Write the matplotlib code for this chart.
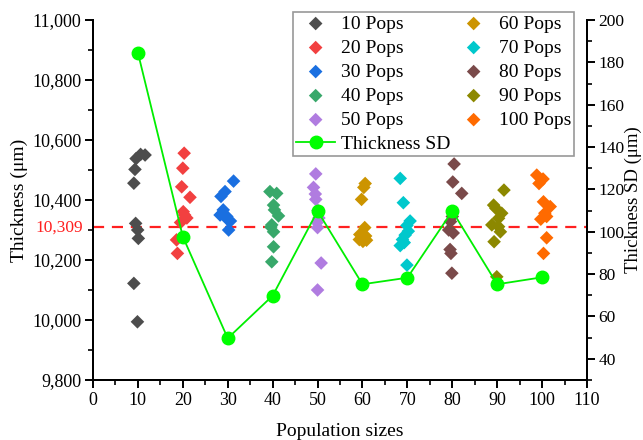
import numpy as np
import matplotlib
matplotlib.use('Agg')
import matplotlib.pyplot as plt
import matplotlib.transforms as mtransforms
from matplotlib.ticker import MultipleLocator, FuncFormatter

plt.rcParams['font.family'] = ['Liberation Serif', 'DejaVu Serif']
plt.rcParams['mathtext.fontset'] = 'stix'

# Thickness of each run, grouped by population size (x jittered around the size)
pops = [10, 20, 30, 40, 50, 60, 70, 80, 90, 100]
x_runs = {
    10: [9.6, 10.6, 11.6, 9.35, 9.1, 9.5, 9.95, 10.1, 9.1, 9.9],
    20: [20.3, 20.0, 19.75, 21.6, 20.1, 20.9, 19.5, 20.4, 18.6, 18.8],
    30: [31.3, 29.4, 28.5, 29.0, 28.3, 29.8, 30.6, 30.2, 28.9, 29.9],
    40: [39.4, 40.9, 40.2, 40.4, 41.3, 39.8, 40.2, 40.2, 39.8, 39.6],
    50: [49.6, 49.1, 49.5, 49.6, 50.1, 50.3, 49.9, 50.0, 50.8, 50.0],
    60: [60.6, 60.3, 59.8, 60.5, 59.4, 60.7, 59.3, 60.1, 60.9, 60.0],
    70: [68.4, 69.1, 70.6, 69.9, 70.2, 69.5, 68.9, 68.4, 69.3, 69.9],
    80: [80.4, 80.1, 82.1, 80.0, 79.6, 79.2, 80.2, 79.5, 79.7, 79.9],
    90: [91.5, 89.2, 89.7, 91.0, 90.3, 88.8, 90.3, 90.7, 89.3, 89.9],
    100: [98.8, 100.2, 99.3, 100.3, 101.8, 100.6, 99.7, 101.0, 101.0, 100.3],
}
thickness = {
    10: [10538, 10552, 10550, 10502, 10456, 10322, 10300, 10272, 10122, 9994],
    20: [10556, 10506, 10444, 10409, 10361, 10340, 10325, 10350, 10267, 10222],
    30: [10463, 10428, 10412, 10367, 10350, 10345, 10330, 10300, 10356, 10336],
    40: [10428, 10422, 10383, 10367, 10347, 10317, 10294, 10244, 10194, 10310],
    50: [10487, 10442, 10420, 10402, 10365, 10340, 10325, 10308, 10190, 10100],
    60: [10455, 10442, 10402, 10308, 10285, 10280, 10268, 10262, 10266, 10275],
    70: [10472, 10391, 10330, 10315, 10296, 10283, 10268, 10248, 10258, 10183],
    80: [10520, 10460, 10422, 10345, 10328, 10300, 10290, 10235, 10222, 10156],
    90: [10433, 10383, 10372, 10356, 10339, 10317, 10311, 10294, 10261, 10144],
    100: [10483, 10470, 10455, 10394, 10378, 10356, 10336, 10345, 10274, 10222],
}
colors = ['#4d4d4d', '#f24040', '#1a6fe0', '#38a86a', '#b07ce0',
          '#cc9400', '#00c8cc', '#7a4a4a', '#8c8800', '#ff6a00']

sd_values = [184.6, 97.7, 49.7, 69.8, 109.8, 75.2, 78.3, 109.8, 75.2, 78.5]
mean_thickness = 10309

fig = plt.figure(figsize=(6.43, 4.4), dpi=100)
ax = fig.add_axes([0.1446, 0.1364, 0.7684, 0.8181])
ax2 = ax.twinx()

handles = []
for p, c in zip(pops, colors):
    h = ax.scatter(x_runs[p], thickness[p], marker='D', s=48, color=c,
                   edgecolors='none', label=f'{p} Pops', zorder=3)
    handles.append(h)

ax.axhline(mean_thickness, color='#ff2020', ls=(0, (5, 3.5)), lw=1.6, zorder=2)
trans = mtransforms.blended_transform_factory(ax.transAxes, ax.transData)
ax.text(-0.02, mean_thickness, '10,309', transform=trans, ha='right',
        va='center', color='#ff2020', fontsize=12.5)

sd_line, = ax2.plot(pops, sd_values, color='#00ee00', lw=1.3, marker='o',
                    markersize=9, markerfacecolor='#00ff00',
                    markeredgecolor='#00ff00', label='Thickness SD', zorder=4)

ax.set_xlim(0, 110)
ax.set_ylim(9800, 11000)
ax2.set_ylim(30, 200)

ax.xaxis.set_major_locator(MultipleLocator(10))
ax.xaxis.set_minor_locator(MultipleLocator(5))
ax.yaxis.set_major_locator(MultipleLocator(200))
ax.yaxis.set_minor_locator(MultipleLocator(100))
ax.yaxis.set_major_formatter(FuncFormatter(lambda v, _: f'{v:,.0f}'))
ax2.yaxis.set_minor_locator(MultipleLocator(10))
ax2.set_yticks([40, 60, 80, 100, 120, 140, 160, 180, 200])

for a in (ax, ax2):
    a.spines['top'].set_visible(False)
    for s in a.spines.values():
        s.set_linewidth(1.4)
    a.tick_params(which='major', direction='out', length=6, width=1.4,
                  labelsize=13, pad=2.5)
    a.tick_params(which='minor', direction='out', length=3.5, width=1.2)
ax2.tick_params(axis='y', labelsize=12.5, pad=2)

ax.set_xlabel('Population sizes', fontsize=14, labelpad=10)
ax.set_ylabel('Thickness (μm)', fontsize=14, labelpad=3)
ax2.set_ylabel('Thickness SD (μm)', fontsize=13.5, labelpad=0)

order = handles[:5] + [sd_line] + handles[5:]
leg = ax2.legend(order, [h.get_label() for h in order], ncol=2,
                 loc='upper right', bbox_to_anchor=(0.974, 1.022),
                 fontsize=14, frameon=True, fancybox=False,
                 edgecolor='#7f7f7f', handlelength=2.0, handletextpad=0.3,
                 columnspacing=0.2, labelspacing=0.33, borderpad=0.15,
                 borderaxespad=0)
leg.get_frame().set_linewidth(1.2)

fig.savefig('out.png', dpi=100)
